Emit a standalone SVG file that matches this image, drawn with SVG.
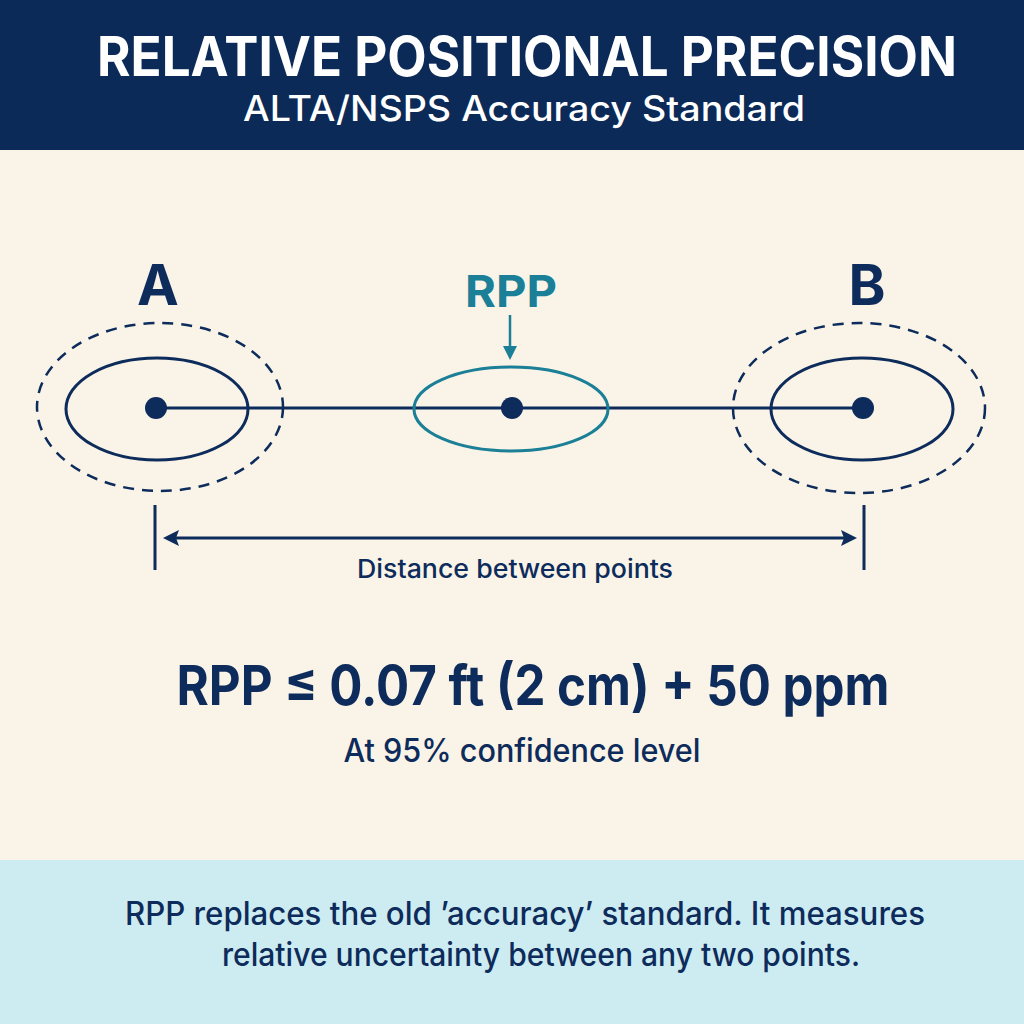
<svg xmlns="http://www.w3.org/2000/svg" width="1024" height="1024" viewBox="0 0 1024 1024">
<style>
.navy{fill:#0d2b5b}
.t{font-family:Inter,"Liberation Sans",sans-serif;text-anchor:middle}
.b{font-weight:700}
.m{font-weight:500}
.ln{stroke:#0d2b5b;stroke-width:3;fill:none}
.dash{stroke:#0d2b5b;stroke-width:2.5;fill:none;stroke-dasharray:11 8}
</style>
<rect x="0" y="0" width="1024" height="150" fill="#0c2a58"/>
<rect x="0" y="150" width="1024" height="710" fill="#f9f4e7"/>
<rect x="0" y="860" width="1024" height="164" fill="#cdecf1"/>
<g id="header">
<text class="t b" x="527" y="76" font-size="55" fill="#ffffff" textLength="860" lengthAdjust="spacingAndGlyphs">RELATIVE POSITIONAL PRECISION</text>
<text class="t m" x="524" y="121" font-size="35" fill="#ffffff" textLength="562" lengthAdjust="spacingAndGlyphs">ALTA/NSPS Accuracy Standard</text>
</g>
<g id="connectors">
<line class="ln" x1="156" y1="408" x2="863" y2="408"/>
<line x1="510" y1="315" x2="510" y2="348" stroke="#1a7f97" stroke-width="2.5"/>
<path d="M503,346 L517,346 L510,360 z" fill="#1a7f97"/>
<line class="ln" x1="155" y1="505" x2="155" y2="570" stroke-width="2.5"/>
<line class="ln" x1="864" y1="505" x2="864" y2="570" stroke-width="2.5"/>
<path d="M163,538 L179,530 L176,538 L179,546 z" class="navy"/>
<path d="M857,538 L841,530 L844,538 L841,546 z" class="navy"/>
<line class="ln" x1="172" y1="538" x2="848" y2="538"/>
</g>
<g id="pointA">
<ellipse class="dash" cx="160" cy="407" rx="123" ry="84"/>
<ellipse class="ln" cx="157" cy="409" rx="91" ry="51"/>
<circle class="navy" cx="156" cy="408" r="11"/>
<text class="t b navy" x="158" y="305" font-size="56">A</text>
</g>
<g id="rpp">
<ellipse cx="511" cy="409" rx="97" ry="42" fill="none" stroke="#1a7f97" stroke-width="3"/>
<circle class="navy" cx="512" cy="408" r="11"/>
<text class="t b" x="511" y="307" font-size="44" fill="#1a7f97" textLength="92" lengthAdjust="spacingAndGlyphs">RPP</text>
</g>
<g id="pointB">
<ellipse class="dash" cx="859" cy="408" rx="126" ry="85"/>
<ellipse class="ln" cx="862" cy="409" rx="91" ry="51"/>
<circle class="navy" cx="863" cy="408" r="11"/>
<text class="t b navy" x="867" y="305" font-size="56">B</text>
</g>
<g id="distance-label">
<text class="t m navy" x="515" y="578" font-size="26" textLength="316" lengthAdjust="spacingAndGlyphs">Distance between points</text>
</g>
<g id="formula">
<text class="t b navy" x="533" y="705" font-size="55" textLength="713" lengthAdjust="spacingAndGlyphs">RPP ≤ 0.07 ft (2 cm) + 50 ppm</text>
<text class="t m navy" x="522" y="762" font-size="32" textLength="357" lengthAdjust="spacingAndGlyphs">At 95% confidence level</text>
</g>
<g id="note">
<text class="t m navy" x="525" y="925" font-size="32" textLength="800" lengthAdjust="spacingAndGlyphs">RPP replaces the old ’accuracy’ standard. It measures</text>
<text class="t m navy" x="541" y="966" font-size="32" textLength="638" lengthAdjust="spacingAndGlyphs">relative uncertainty between any two points.</text>
</g>
</svg>
